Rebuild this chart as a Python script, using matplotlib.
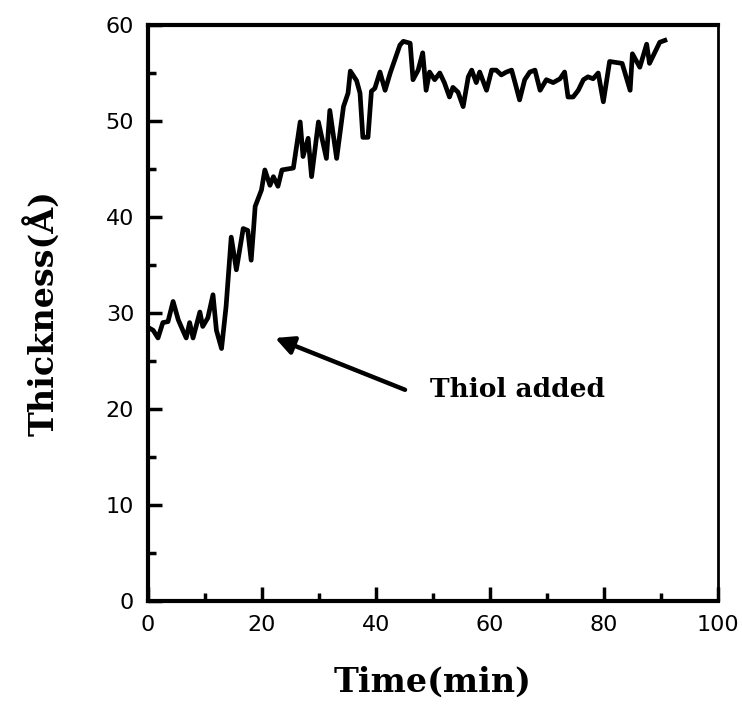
import numpy as np
import matplotlib
matplotlib.use('Agg')
from matplotlib import pyplot as plt
from matplotlib.ticker import MultipleLocator

# thickness trace
time_min = [0, 0.9, 1.75, 2.6, 3.5, 4.4, 5.3, 6.1, 6.7, 7.3, 7.9, 9.1, 9.6, 10.5,
            11.4, 12.0, 12.9, 13.7, 14.6, 15.5, 16.7, 17.5, 18.1, 18.5, 18.8, 19.9,
            20.5, 21.4, 22.0, 22.8, 23.5, 25.5, 26.7, 27.2, 28.1, 28.7, 29.9, 31.3,
            31.9, 33.1, 34.3, 35.1, 35.5, 36.6, 37.2, 37.7, 38.6, 39.2, 39.8, 40.7,
            41.6, 42.5, 44.2, 44.8, 46.0, 46.5, 47.4, 48.2, 48.8, 49.4, 50.3, 51.2,
            52.0, 52.9, 53.5, 54.4, 55.3, 56.2, 56.8, 57.6, 58.2, 59.4, 60.3, 61.1,
            62.0, 62.9, 63.8, 64.4, 65.2, 66.1, 67.0, 67.9, 68.8, 69.9, 71.1, 72.3,
            73.1, 73.7, 74.6, 75.5, 76.4, 77.2, 78.1, 79.0, 79.9, 81.0, 83.2, 84.6,
            85.0, 86.3, 87.5, 88.0, 89.8, 90.7]
thickness = [28.5, 28.2, 27.4, 29.0, 29.1, 31.2, 29.3, 28.2, 27.4, 29.0, 27.4, 30.1,
             28.6, 29.5, 31.9, 28.2, 26.3, 30.7, 37.9, 34.5, 38.8, 38.6, 35.5, 38.6,
             41.1, 42.8, 44.9, 43.3, 44.2, 43.2, 44.9, 45.1, 49.9, 46.3, 48.2, 44.2,
             49.9, 46.1, 51.1, 46.1, 51.5, 52.9, 55.2, 54.2, 52.9, 48.3, 48.3, 53.1,
             53.4, 55.1, 53.2, 55.0, 57.9, 58.3, 58.1, 54.3, 55.3, 57.1, 53.2, 55.1,
             54.3, 55.0, 54.0, 52.5, 53.5, 53.0, 51.5, 54.6, 55.3, 54.0, 55.1, 53.2,
             55.3, 55.3, 54.8, 55.1, 55.3, 54.0, 52.2, 54.3, 55.1, 55.3, 53.2, 54.3,
             54.0, 54.4, 55.1, 52.5, 52.5, 53.2, 54.3, 54.6, 54.4, 55.0, 52.0, 56.2,
             56.0, 53.2, 57.0, 55.6, 58.0, 56.0, 58.2, 58.4]

arrow_tip = (22.3, 27.4)
arrow_tail = (45.1, 22.0)

fig = plt.figure(figsize=(7.42, 7.04), dpi=100)
ax = fig.add_axes([0.1995, 0.1463, 0.768, 0.8182])

ax.plot(time_min, thickness, color='black', linewidth=3.4, solid_joinstyle='round')

ax.annotate('', xy=arrow_tip, xytext=arrow_tail,
            arrowprops=dict(arrowstyle='-|>,head_length=1.1,head_width=0.55',
                            color='black', linewidth=3.2, shrinkA=0, shrinkB=0))
ax.text(49.5, 22.0, 'Thiol added', fontsize=19, fontweight='bold',
        family='DejaVu Serif', va='center', ha='left')

ax.set_xlim(0, 100)
ax.set_ylim(0, 60)
ax.xaxis.set_major_locator(MultipleLocator(20))
ax.xaxis.set_minor_locator(MultipleLocator(10))
ax.yaxis.set_major_locator(MultipleLocator(10))
ax.yaxis.set_minor_locator(MultipleLocator(5))
ax.tick_params(which='both', direction='in', top=False, right=False, width=2.5)
ax.tick_params(which='major', length=10, labelsize=16, pad=10)
ax.tick_params(which='minor', length=6)

for side in ['left', 'bottom', 'top']:
    ax.spines[side].set_linewidth(3.0)
ax.spines['right'].set_linewidth(2.0)

ax.set_xlabel('Time(min)', fontsize=24, fontweight='bold', family='DejaVu Serif', labelpad=22)
ax.set_ylabel('Thickness(Å)', fontsize=24, fontweight='bold', family='DejaVu Serif', labelpad=32)

fig.savefig('out.png', dpi=100)
